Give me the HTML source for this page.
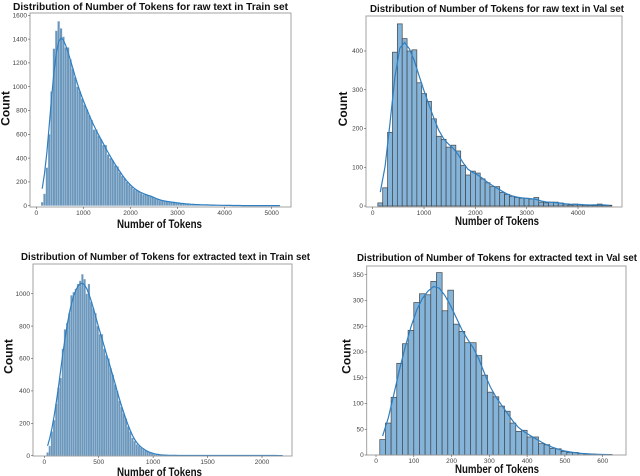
<!DOCTYPE html>
<html><head><meta charset="utf-8"><style>
html,body{margin:0;padding:0;background:#fff;}
svg{display:block;font-family:"Liberation Sans",sans-serif;}
</style></head><body>
<svg id="c" width="640" height="476" viewBox="0 0 640 476"></svg>
<script>
// Panel 1: raw text, Train set (bins start 100, width 50)
const p1Counts=[30,100,320,600,960,1320,1470,1550,1490,1420,1330,1330,1230,1150,1080,1000,960,900,850,810,760,720,640,640,590,560,510,510,430,400,380,340,330,280,250,230,200,180,160,140,130,120,105,95,95,90,85,75,60,55,45,40,38,35,35,30,28,25,22,20,18,16,14,12,12,10,9,8,8,7,6,6,5,5,4,4,3,3,3,2,2,2,2,2,1,1,1,1,1,1,1,1,1,1,1,1,1,1,1,1,1,1];
const p1Ticks=[0,1000,2000,3000,4000,5000];
const p1YTicks=[0,200,400,600,800,1000,1200,1400,1600];
// Panel 2: raw text, Val set (bins start 100, width 95)
const p2Counts=[8,47,190,397,470,432,400,403,318,290,270,225,180,172,152,157,142,105,80,90,85,70,60,50,50,35,30,25,22,20,20,18,22,10,8,10,10,8,5,3,5,4,3,2,2,5,2,2];
const p2Ticks=[0,1000,2000,3000,4000];
const p2YTicks=[0,100,200,300,400];
// Panel 3: extracted text, Train set (bins start 20, width 20)
const p3Counts=[20,60,150,220,320,420,480,660,780,820,880,990,1010,1030,1060,1080,1120,1090,1000,1060,950,910,880,800,750,750,660,620,600,540,500,440,400,340,300,260,230,180,150,110,90,70,60,50,40,30,25,18,14,10,8,6,5,4,3,3,2,2,2,2,1,1,1,1,1,1,1,1,1,1,1,1,1,1,1,1,1,1,1,1,1,1,1,1,1,1,1,1,1,1,1,1,1,1,1,1,1,1,1,1,1,1,1,1,1,1,1,1,1];
const p3Ticks=[0,500,1000,1500,2000];
const p3YTicks=[0,200,400,600,800,1000];
// Panel 4: extracted text, Val set (bins start 10, width 15)
const p4Counts=[30,62,112,178,216,242,296,313,311,337,354,280,320,254,240,218,218,193,155,122,113,95,85,62,46,48,35,35,22,20,13,12,7,5,5,3,2,2,1,1,1];
const p4Ticks=[0,100,200,300,400,500,600];
const p4YTicks=[0,50,100,150,200,250,300,350];

const NS='http://www.w3.org/2000/svg';
const svg=document.getElementById('c');
function mk(t,a,p){const e=document.createElementNS(NS,t);for(const k in a)e.setAttribute(k,a[k]);(p||svg).appendChild(e);return e;}

const panels=[
 {id:'p1',counts:p1Counts,start:100,w:50,xt:p1Ticks,yt:p1YTicks,frame:[30,13,291,207],x0:[0,36.3],x1:[5000,271.7],y0:205.7,ymax:[1600,15.3],dense:true,
  title:'Distribution of Number of Tokens for raw text in Train set',tt:[13,288,10],xl:[117,202,228],cl:[5.5,95,122]},
 {id:'p2',counts:p2Counts,start:100,w:95,xt:p2Ticks,yt:p2YTicks,frame:[366,16,622,207],x0:[0,372.7],x1:[4000,578],y0:206,ymax:[400,51],dense:false,
  title:'Distribution of Number of Tokens for raw text in Val set',tt:[370,624,12],xl:[455,539,225],cl:[343,95,123]},
 {id:'p3',counts:p3Counts,start:20,w:20,xt:p3Ticks,yt:p3YTicks,frame:[33,264,292,456],x0:[0,44.3],x1:[2000,262],y0:455.7,ymax:[1000,293.7],dense:true,
  title:'Distribution of Number of Tokens for extracted text in Train set',tt:[21,310,260],xl:[117,202,476],cl:[8.5,343,370]},
 {id:'p4',counts:p4Counts,start:10,w:15,xt:p4Ticks,yt:p4YTicks,frame:[366.7,266,626,455],x0:[0,376],x1:[600,602.7],y0:455,ymax:[350,274.7],dense:false,
  title:'Distribution of Number of Tokens for extracted text in Val set',tt:[357,637,261],xl:[455,539,473],cl:[346.5,343,370]}
];

panels.forEach(p=>{
  const g=mk('g',{});
  
  
  const sx=v=>p.x0[1]+(v-p.x0[0])*(p.x1[1]-p.x0[1])/(p.x1[0]-p.x0[0]);
  const sy=v=>p.y0-v*(p.y0-p.ymax[1])/p.ymax[0];
  p.counts.forEach((c,i)=>{
    const xa=sx(p.start+i*p.w),xb=sx(p.start+(i+1)*p.w);
    const r=mk('rect',{x:xa,y:sy(c),width:Math.max(xb-xa,0.3),height:p.y0-sy(c),
      fill:p.dense?'#6b97bc':'#84b4da',stroke:p.dense?'rgba(230,238,245,0.55)':'#444','stroke-width':p.dense?0.4:0.7},g);
    
    
  });
  // kde: gaussian smoothing of counts, with zero outside data range
  const n=p.counts.length,sig=p.dense?2.0:1.2;let d='';
  let norm=0;for(let j=-20;j<=20;j++)norm+=Math.exp(-(j*j)/(2*sig*sig));
  for(let i=0;i<n;i++){let s=0;for(let j=0;j<n;j++){s+=Math.exp(-((i-j)**2)/(2*sig*sig))*p.counts[j];}
    const v=s/norm;d+=(i?'L':'M')+sx(p.start+(i+0.5)*p.w).toFixed(1)+','+sy(v).toFixed(1);}
  const k=mk('path',{d:d,fill:'none',stroke:'#2f7fc1','stroke-width':1.2},g);
  
  
  const f=p.frame;
  const fr=mk('rect',{x:f[0],y:f[1],width:f[2]-f[0],height:f[3]-f[1],fill:'none',stroke:'#999','stroke-width':0.9},g);
  
  
  p.xt.forEach(t=>{
    mk('line',{x1:sx(t),x2:sx(t),y1:f[3],y2:f[3]+2,stroke:'#555','stroke-width':0.6},g);
    const tx=mk('text',{x:sx(t),y:f[3]+8,'font-size':6.5,fill:'#444','text-anchor':'middle'},g);
    tx.textContent=t;
    
    
  });
  p.yt.forEach(t=>{
    mk('line',{x1:f[0]-2,x2:f[0],y1:sy(t),y2:sy(t),stroke:'#555','stroke-width':0.6},g);
    const tx=mk('text',{x:f[0]-3,y:sy(t)+2.2,'font-size':6.5,fill:'#444','text-anchor':'end'},g);
    tx.textContent=t;
    
    
  });
  const ti=mk('text',{x:p.tt[0],y:p.tt[2],'font-size':10,'font-weight':'bold',fill:'#111',textLength:p.tt[1]-p.tt[0],lengthAdjust:'spacingAndGlyphs'},g);
  ti.textContent=p.title;
  
  
  const xl=mk('text',{x:p.xl[0],y:p.xl[2],'font-size':12,'font-weight':'bold',fill:'#111',textLength:p.xl[1]-p.xl[0],lengthAdjust:'spacingAndGlyphs'},g);
  xl.textContent='Number of Tokens';
  
  
  const cy=(p.cl[1]+p.cl[2])/2;
  const yl=mk('text',{x:p.cl[0]+4,y:cy,'font-size':12,'font-weight':'bold',fill:'#111','text-anchor':'middle',transform:'rotate(-90 '+(p.cl[0]+4)+' '+cy+')'},g);
  yl.textContent='Count';
  
  
});
</script>
</body></html>
